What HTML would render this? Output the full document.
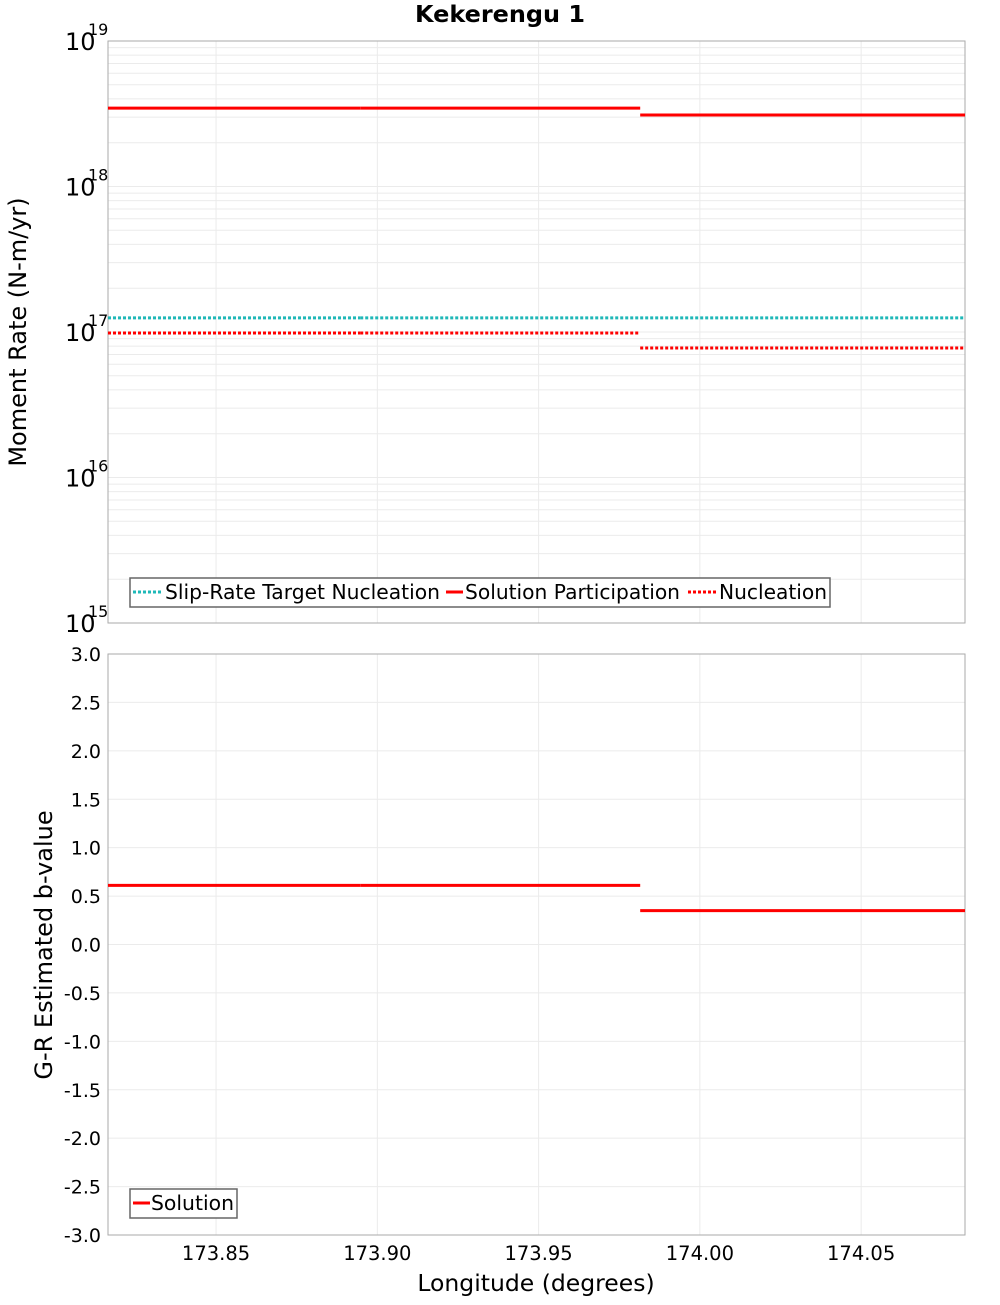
<!DOCTYPE html>
<html><head><meta charset="utf-8"><style>
body{margin:0;background:#fff}
svg text{font-family:"DejaVu Sans","Liberation Sans",sans-serif;fill:#000}
</style></head><body>
<svg id="c" width="1000" height="1300" xmlns="http://www.w3.org/2000/svg"></svg>
<script>
const segStart=[173.8165,173.8947,173.9815];
const segEnd=[173.8947,173.9815,174.0822];
const targetNucleation=[1.25e17,1.25e17,1.25e17];
const solutionParticipation=[3.46e18,3.46e18,3.1e18];
const nucleation=[9.85e16,9.85e16,7.76e16];
const bValue=[0.61,0.61,0.35];
const xTicks=[173.85,173.90,173.95,174.00,174.05];
const xTickLabels=["173.85","173.90","173.95","174.00","174.05"];
const yExp=[15,16,17,18,19];
const bTicks=[-3,-2.5,-2,-1.5,-1,-0.5,0,0.5,1,1.5,2,2.5,3];

const NS="http://www.w3.org/2000/svg";
const svg=document.getElementById('c');
const L=108,R=965,T1=41,B1=623,T2=654,B2=1235;
const xMin=173.8165,xMax=174.0822;
const X=v=>L+(v-xMin)/(xMax-xMin)*(R-L);
const Y1=v=>B1-(Math.log10(v)-15)/4*(B1-T1);
const Y2=v=>B2-(v+3)/6*(B2-T2);
function el(tag,attrs,text){const e=document.createElementNS(NS,tag);for(const k in attrs)e.setAttribute(k,attrs[k]);if(text!==undefined)e.textContent=text;svg.appendChild(e);return e;}

let t=el('text',{x:500,y:22,'text-anchor':'middle','font-size':23,'font-weight':'bold',textLength:170,lengthAdjust:'spacingAndGlyphs'},'Kekerengu 1');



for(let e=15;e<19;e++)for(let m=1;m<10;m++){const y=Y1(m*Math.pow(10,e));
 const g=el('line',{x1:L,x2:R,y1:y,y2:y,stroke:'#ebebeb','stroke-width':1});
 
 }
xTicks.forEach(v=>{[[T1,B1],[T2,B2]].forEach(([a,b])=>{
 const g=el('line',{x1:X(v),x2:X(v),y1:a,y2:b,stroke:'#ebebeb','stroke-width':1});
 
 });});
bTicks.forEach(v=>{const g=el('line',{x1:L,x2:R,y1:Y2(v),y2:Y2(v),stroke:'#ebebeb','stroke-width':1});
 
 });

let f=el('rect',{x:L,y:T1,width:R-L,height:B1-T1,fill:'none',stroke:'#aaa'});


f=el('rect',{x:L,y:T2,width:R-L,height:B2-T2,fill:'none',stroke:'#aaa'});



yExp.forEach(e=>{const y=Y1(Math.pow(10,e));
 const a=el('text',{x:65,y:y+9,'font-size':24,'text-anchor':'start'},'10');
 
 
 const b=el('text',{x:88,y:y-6,'font-size':16},String(e));
 
 });
bTicks.forEach(v=>{const a=el('text',{x:101,y:Y2(v)+7,'font-size':19,'text-anchor':'end'},v.toFixed(1));
 
 });
xTicks.forEach((v,i)=>{const a=el('text',{x:X(v),y:1260,'font-size':19.5,'text-anchor':'middle'},xTickLabels[i]);
 
 });

let a=el('text',{x:0,y:0,'font-size':24,'text-anchor':'middle',transform:'translate(26,332) rotate(-90)'},'Moment Rate (N-m/yr)');


a=el('text',{x:0,y:0,'font-size':24,'text-anchor':'middle',transform:'translate(52,945) rotate(-90)'},'G-R Estimated b-value');


a=el('text',{x:536,y:1291,'font-size':23.5,'text-anchor':'middle'},'Longitude (degrees)');



function seg(vals,Y,color,dash,name){vals.forEach((v,i)=>{
 const l=el('line',{x1:X(segStart[i]),x2:X(segEnd[i]),y1:Y(v),y2:Y(v),stroke:color,'stroke-width':3});
 if(dash)l.setAttribute('stroke-dasharray','3,2');
 
 });}
seg(targetNucleation,Y1,'#1fb8b8',true,'target-nucleation-segment');
seg(nucleation,Y1,'#ff0000',true,'nucleation-segment');
seg(solutionParticipation,Y1,'#ff0000',false,'solution-participation-segment');
seg(bValue,Y2,'#ff0000',false,'b-value-segment');

let lg=el('rect',{x:130,y:578,width:700,height:29,fill:'#fff',stroke:'#666','stroke-width':1.5});


[[133,'#1fb8b8',true,165,'Slip-Rate Target Nucleation',275],[446,'#ff0000',false,465,'Solution Participation',215],[688,'#ff0000',true,719,'Nucleation',108]].forEach(([x,c,d,tx,s,w])=>{
 const l=el('line',{x1:x,x2:x+(d?28:17),y1:592,y2:592,stroke:c,'stroke-width':3});
 if(d)l.setAttribute('stroke-dasharray','3,2');
 
 
 const tt=el('text',{x:tx,y:599,'font-size':20,textLength:w,lengthAdjust:'spacingAndGlyphs'},s);
 
 });
lg=el('rect',{x:130,y:1189,width:107,height:29,fill:'#fff',stroke:'#666','stroke-width':1.5});


let sl=el('line',{x1:133,x2:150,y1:1203,y2:1203,stroke:'#ff0000','stroke-width':3});


let st=el('text',{x:151,y:1210,'font-size':20,textLength:83,lengthAdjust:'spacingAndGlyphs'},'Solution');


</script>
</body></html>
